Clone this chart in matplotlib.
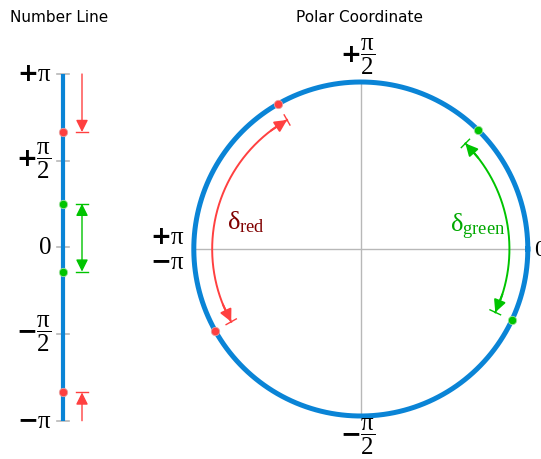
import numpy as np
import matplotlib
matplotlib.use("Agg")
import matplotlib.pyplot as plt

plt.rcParams['mathtext.fontset'] = 'custom'
plt.rcParams['mathtext.rm'] = 'Liberation Serif'
plt.rcParams['mathtext.it'] = 'Liberation Serif'
plt.rcParams['mathtext.bf'] = 'Liberation Serif:bold'
plt.rcParams['mathtext.sf'] = 'DejaVu Sans:bold'

# phase values (radians) of the two pairs of points
red_phases = [2.09, -2.63]
green_phases = [0.79, -0.44]

tick_values = [np.pi, np.pi / 2, 0, -np.pi / 2, -np.pi]
tick_labels = [r'$\mathsf{+}\pi$', r'$\mathsf{+}\dfrac{\pi}{2}$', r'$0$',
               r'$\mathsf{-}\dfrac{\pi}{2}$', r'$\mathsf{-}\pi$']

BLUE = '#0a84d6'
RED = '#ff4040'
GREEN = '#00c400'
GRAY = '#b8b8b8'

fig = plt.figure(figsize=(5.41, 4.59), dpi=100)

# ---- number line ----
ax1 = fig.add_axes([0, 38.3 / 459, 150 / 541, 346.7 / 459])
ax1.set_xlim(0, 150)
ax1.set_ylim(-np.pi, np.pi)
ax1.axis('off')

line_x = 63
for v, lab in zip(tick_values, tick_labels):
    ax1.plot([57, 69], [v, v], color=GRAY, lw=1.2, clip_on=False, zorder=1)
    ax1.text(52, v, lab, ha='right', va='center', fontsize=18)
ax1.plot([line_x, line_x], [-np.pi, np.pi], color=BLUE, lw=3, solid_capstyle='butt', zorder=2)

ax1.plot([line_x] * 2, red_phases, 'o', color=RED, ms=6, mec='#e8a0a0', mew=0.6, zorder=3, clip_on=False)
ax1.plot([line_x] * 2, green_phases, 'o', color=GREEN, ms=6, mec='#a0e0a0', mew=0.6, zorder=3, clip_on=False)

arr_x = 82


def bar1(y, color):
    ax1.plot([arr_x - 6, arr_x + 6], [y, y], color=color, lw=1, clip_on=False)


ax1.annotate('', xy=(arr_x, red_phases[0]), xytext=(arr_x, np.pi),
             arrowprops=dict(arrowstyle='-|>', color=RED, lw=1, mutation_scale=18, shrinkA=0, shrinkB=0))
bar1(red_phases[0], RED)
ax1.annotate('', xy=(arr_x, red_phases[1]), xytext=(arr_x, -np.pi),
             arrowprops=dict(arrowstyle='-|>', color=RED, lw=1, mutation_scale=18, shrinkA=0, shrinkB=0))
bar1(red_phases[1], RED)
ax1.annotate('', xy=(arr_x, green_phases[0]), xytext=(arr_x, green_phases[1]),
             arrowprops=dict(arrowstyle='<|-|>', color=GREEN, lw=1, mutation_scale=18, shrinkA=0, shrinkB=0))
bar1(green_phases[0], GREEN)
bar1(green_phases[1], GREEN)

# ---- polar view ----
ax2 = fig.add_axes([193.8 / 541, 43 / 459, 334 / 541, 334 / 459])
ax2.set_xlim(-1, 1)
ax2.set_ylim(-1, 1)
ax2.axis('off')

ax2.plot([-1, 1], [0, 0], color=GRAY, lw=1)
ax2.plot([0, 0], [-1, 1], color=GRAY, lw=1)
t = np.linspace(0, 2 * np.pi, 400)
ax2.plot(np.cos(t), np.sin(t), color=BLUE, lw=3.6, clip_on=False)

rp = np.array(red_phases)
gp = np.array(green_phases)
ax2.plot(np.cos(rp), np.sin(rp), 'o', color=RED, ms=6, mec='#e8a0a0', mew=0.6, zorder=3, clip_on=False)
ax2.plot(np.cos(gp), np.sin(gp), 'o', color=GREEN, ms=6, mec='#a0e0a0', mew=0.6, zorder=3, clip_on=False)

R = 0.89


def arc_arrow(a0, a1, color):
    a = np.linspace(a0, a1, 200)
    step = 0.13 * np.sign(a1 - a0)
    ax2.plot(R * np.cos(a), R * np.sin(a), color=color, lw=1.4)
    for end, inner in [(a0, a0 + step), (a1, a1 - step)]:
        ax2.annotate('', xy=(R * np.cos(end), R * np.sin(end)),
                     xytext=(R * np.cos(inner), R * np.sin(inner)),
                     arrowprops=dict(arrowstyle='-|>', color=color, lw=1.4, mutation_scale=18,
                                     shrinkA=0, shrinkB=0))
        ax2.plot([(R - 0.035) * np.cos(end), (R + 0.035) * np.cos(end)],
                 [(R - 0.035) * np.sin(end), (R + 0.035) * np.sin(end)], color=color, lw=1)


arc_arrow(rp[0], rp[1] + 2 * np.pi, RED)
arc_arrow(gp[0], gp[1], GREEN)

ax2.text(-0.69, 0.16, r'$\delta_{\rm red}$', color='#800000', fontsize=19, ha='center', va='center')
ax2.text(0.70, 0.13, r'$\delta_{\rm green}$', color='#00a800', fontsize=19, ha='center', va='center')

ax2.text(-0.02, 1.15, r'$\mathsf{+}\dfrac{\pi}{2}$', ha='center', va='center', fontsize=18)
ax2.text(-0.02, -1.125, r'$\mathsf{-}\dfrac{\pi}{2}$', ha='center', va='center', fontsize=18)
ax2.text(-1.05, 0.07, r'$\mathsf{+}\pi$', ha='right', va='center', fontsize=18)
ax2.text(-1.05, -0.08, r'$\mathsf{-}\pi$', ha='right', va='center', fontsize=18)
ax2.text(1.04, 0.0, r'$0$', ha='left', va='center', fontsize=17)

fig.text(59 / 541, 1 - 18 / 459, 'Number Line', ha='center', va='center', fontsize=11)
fig.text(360 / 541, 1 - 18 / 459, 'Polar Coordinate', ha='center', va='center', fontsize=11)

fig.savefig('out.png', dpi=100)
